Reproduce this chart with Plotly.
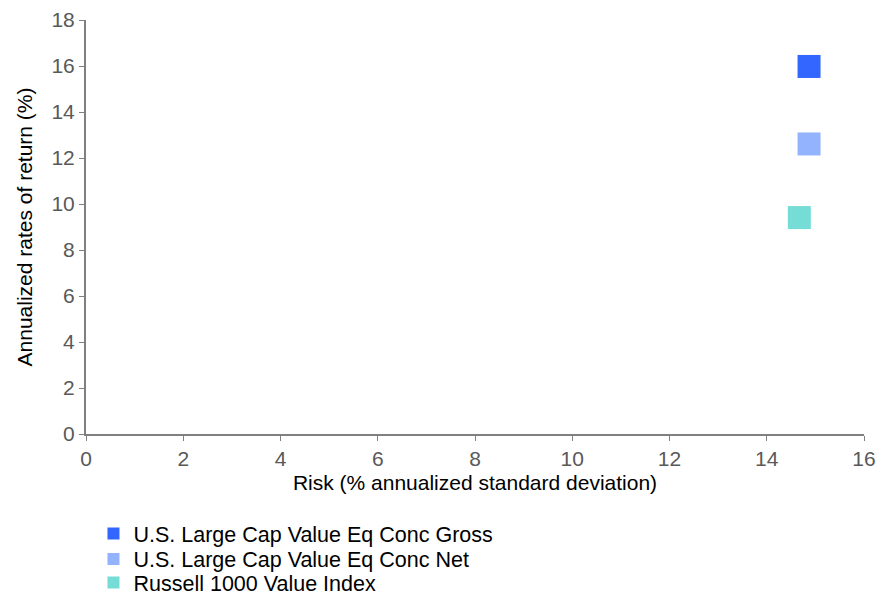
import plotly.graph_objects as go

series_names = ["U.S. Large Cap Value Eq Conc Gross", "U.S. Large Cap Value Eq Conc Net", "Russell 1000 Value Index"]
risk = [14.87, 14.87, 14.67]
ret = [15.98, 12.61, 9.41]
colors = ["#3366FF", "#94B3FF", "#76DDD6"]

legend_ids = ["legend", "legend2", "legend3"]
legend_y = [-0.2403, -0.3019, -0.3590]

font = "Liberation Sans, Arial, sans-serif"

fig = go.Figure()
for n, x, y, c, lid in zip(series_names, risk, ret, colors, legend_ids):
    fig.add_trace(go.Scatter(x=[x], y=[y], mode="markers", name=n, legend=lid,
                             marker=dict(symbol="square", size=23, color=c, line=dict(width=0))))

axis_common = dict(showgrid=False, zeroline=False, showline=True, linecolor="#808080", linewidth=2,
                   ticks="outside", ticklen=5, tickcolor="#808080", tickwidth=1, automargin=False,
                   tickfont=dict(family=font, size=21, color="#595959"))

legends = {}
for lid, ly in zip(legend_ids, legend_y):
    legends[lid] = dict(x=0.0096, y=ly, xanchor="left", yanchor="middle",
                        font=dict(family=font, size=21.5, color="black"),
                        itemsizing="constant", bgcolor="rgba(0,0,0,0)")

fig.update_layout(
    width=881, height=591,
    margin=dict(l=86, r=17, t=20, b=157, autoexpand=False),
    paper_bgcolor="white", plot_bgcolor="white",
    font=dict(family=font, size=21, color="black"),
    xaxis=dict(range=[0, 16], dtick=2, title=dict(text="Risk (% annualized standard deviation)", font=dict(size=21, color="black"), standoff=6), **axis_common),
    yaxis=dict(range=[0, 18], dtick=2, title=dict(text="Annualized rates of return (%)", font=dict(size=21, color="black"), standoff=13), **axis_common),
    showlegend=True,
    **legends,
)
fig.write_html("out.html", config={"displayModeBar": False},
               post_script="document.body.style.margin='0';document.body.style.overflow='hidden';")
